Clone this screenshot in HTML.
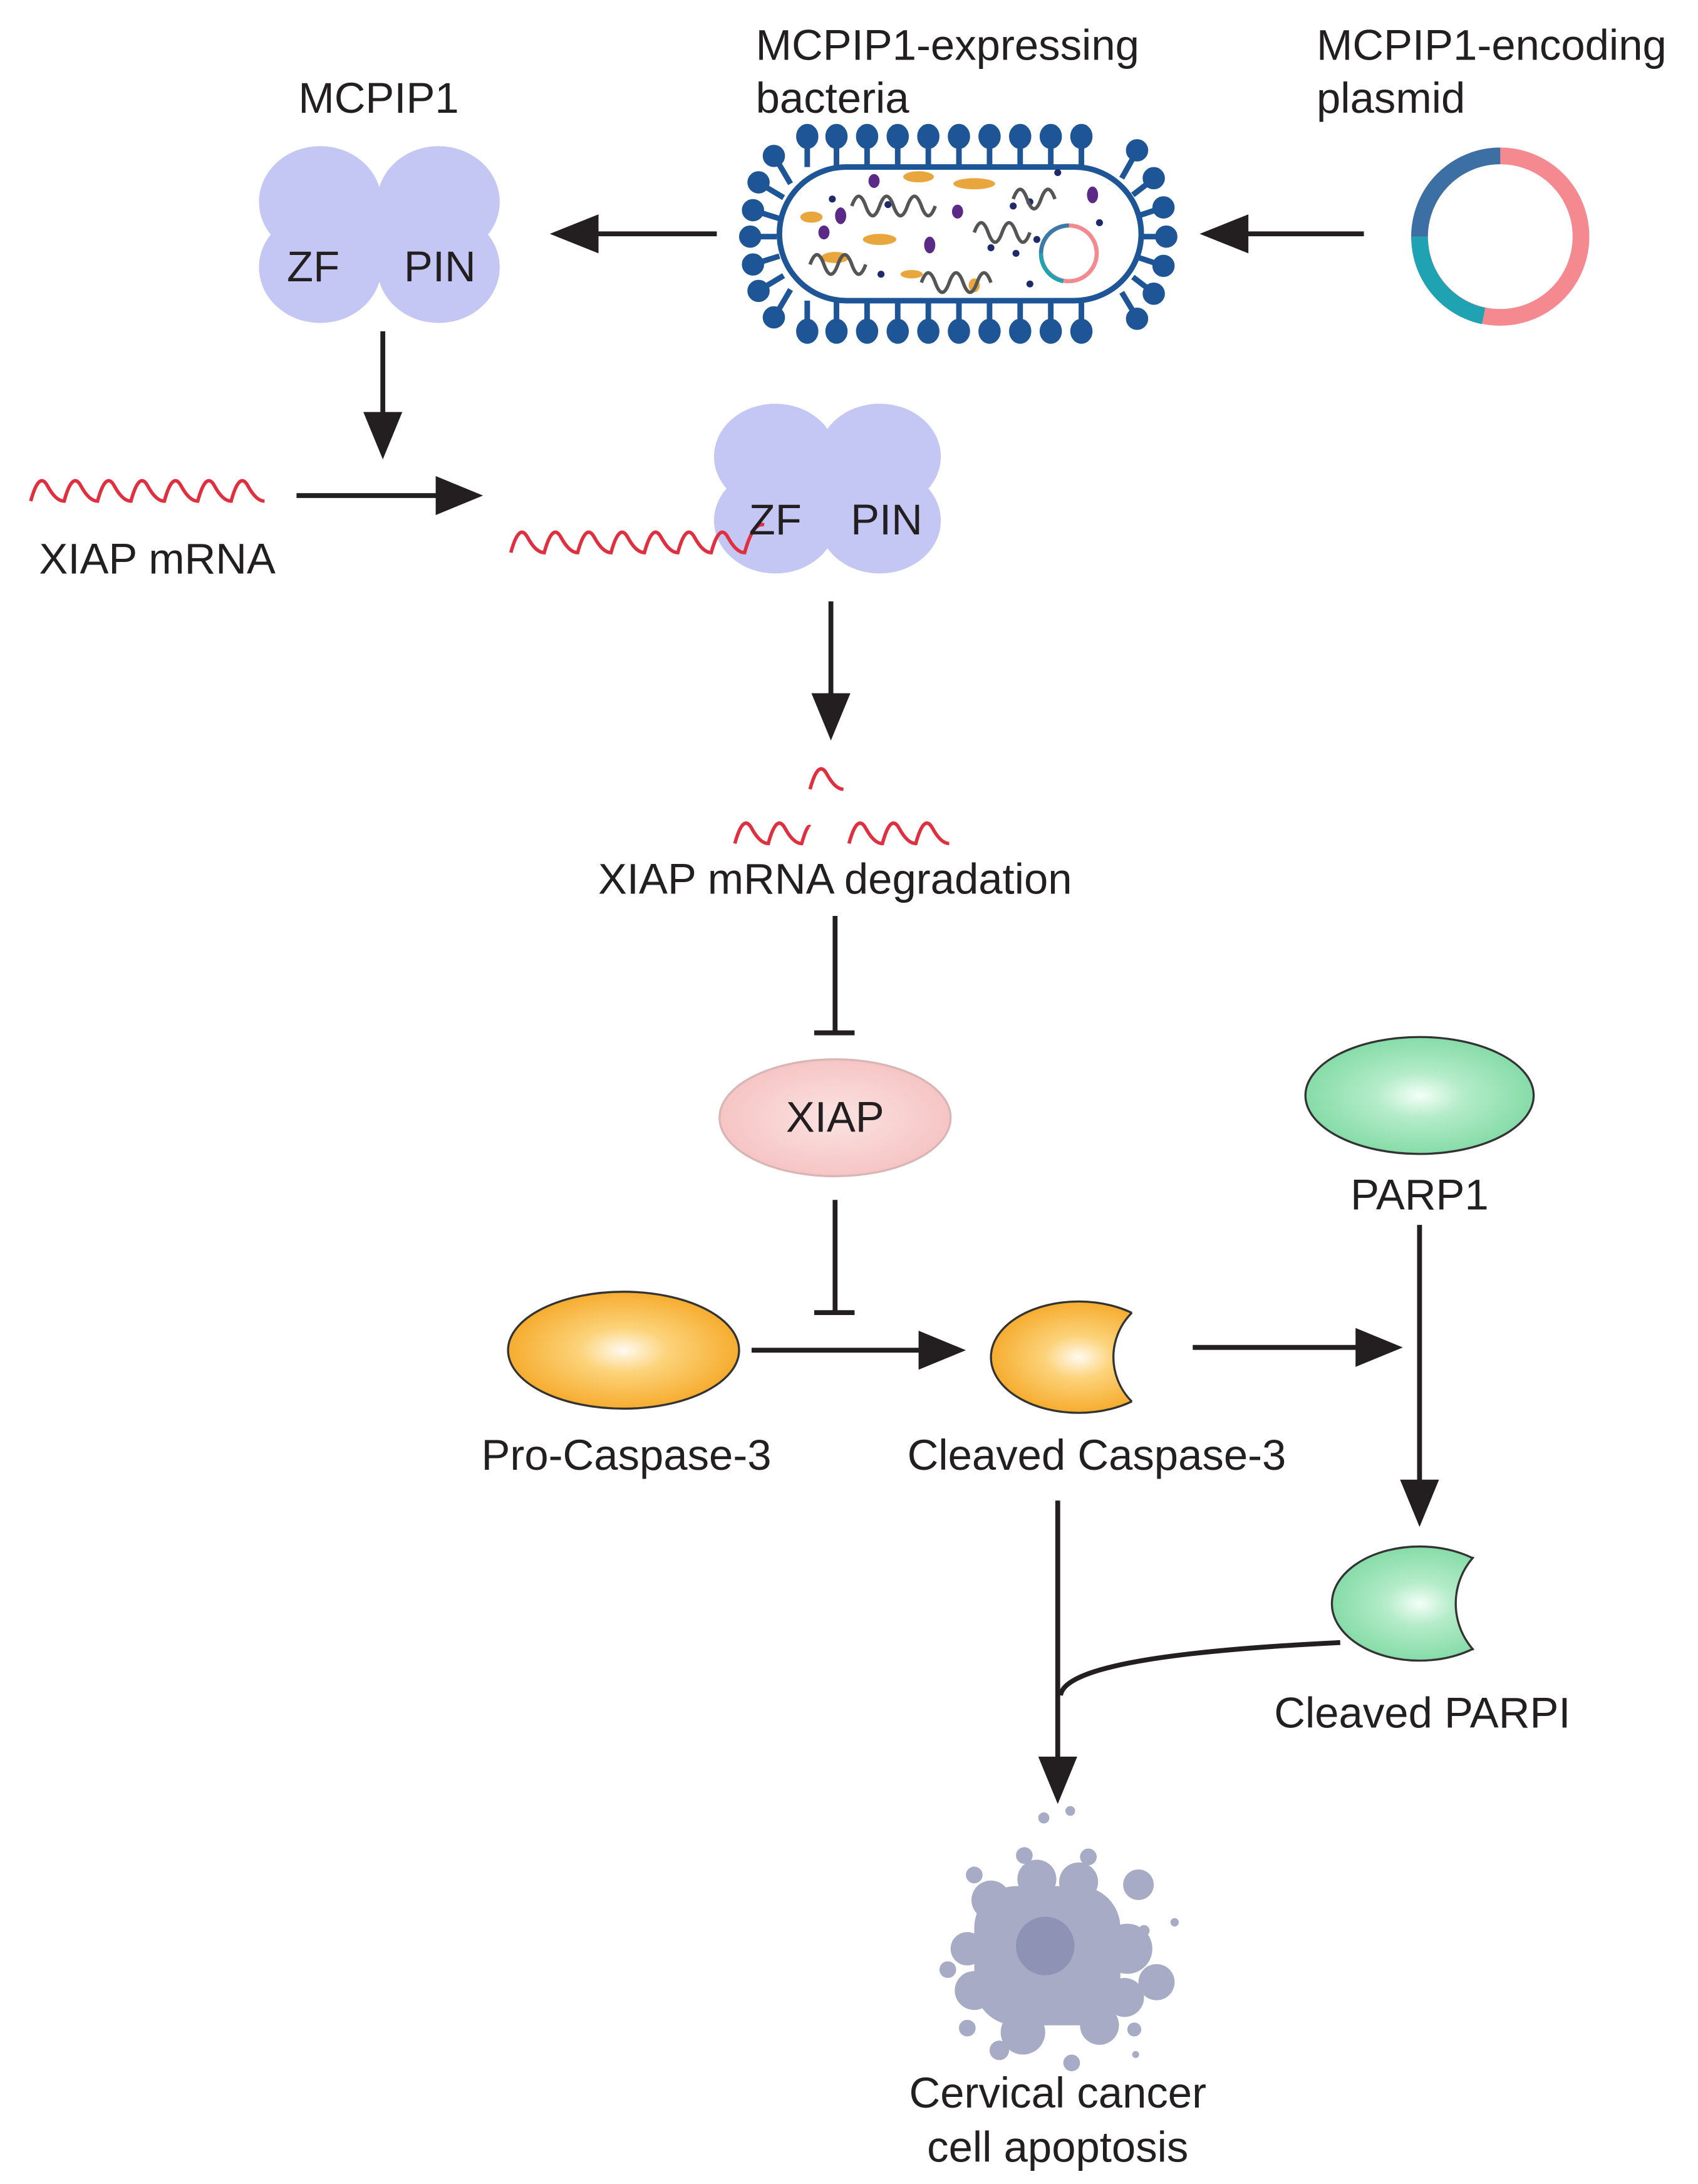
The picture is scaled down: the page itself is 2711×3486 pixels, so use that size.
<!DOCTYPE html>
<html><head><meta charset="utf-8"><style>
html,body{margin:0;padding:0;background:#fff;}
svg{display:block;}
text{font-family:"Liberation Sans",Arial,sans-serif;fill:#231f20;}
</style></head><body>
<svg width="2711" height="3486" viewBox="0 0 1220 1569" xmlns="http://www.w3.org/2000/svg">
<defs>
<radialGradient id="gOr" cx="50%" cy="50%" r="55%"><stop offset="0" stop-color="#fffaf0"/><stop offset="0.35" stop-color="#fcd37a"/><stop offset="1" stop-color="#f5a623"/></radialGradient>
<radialGradient id="gGr" cx="50%" cy="50%" r="55%"><stop offset="0" stop-color="#f4fff8"/><stop offset="0.35" stop-color="#b4ecc9"/><stop offset="1" stop-color="#7fd9a3"/></radialGradient>
<radialGradient id="gPk" cx="50%" cy="50%" r="55%"><stop offset="0" stop-color="#fbe3e2"/><stop offset="1" stop-color="#f5c2c1"/></radialGradient>
<mask id="m1"><rect x="0" y="0" width="1220" height="1569" fill="#fff"/><circle cx="845" cy="975" r="45" fill="#000"/></mask>
<mask id="m2"><rect x="0" y="0" width="1220" height="1569" fill="#fff"/><circle cx="1096" cy="1152" r="50" fill="#000"/></mask>
<clipPath id="c1"><ellipse cx="775" cy="975" rx="63" ry="40"/></clipPath>
<clipPath id="c2"><ellipse cx="1020" cy="1152" rx="64" ry="42"/></clipPath>
</defs>

<text x="272" y="81" font-size="31" text-anchor="middle">MCPIP1</text>
<text x="543" y="43" font-size="31">MCPIP1-expressing</text>
<text x="543" y="81" font-size="31">bacteria</text>
<text x="946" y="43" font-size="31">MCPIP1-encoding</text>
<text x="946" y="81" font-size="31">plasmid</text>

<g fill="#c4c7f3">
<ellipse cx="230" cy="145" rx="44" ry="40"/><ellipse cx="315" cy="145" rx="44" ry="40"/>
<ellipse cx="230" cy="192" rx="44" ry="40"/><ellipse cx="315" cy="192" rx="44" ry="40"/>
<rect x="215" y="140" width="115" height="55"/>
</g>
<text x="225" y="202" font-size="31" text-anchor="middle">ZF</text>
<text x="316" y="202" font-size="31" text-anchor="middle">PIN</text>

<g stroke="#231f20" stroke-width="3.5" fill="none">
<line x1="515" y1="168" x2="420" y2="168"/>
<line x1="980" y1="168" x2="888" y2="168"/>
<line x1="275" y1="238" x2="275" y2="305"/>
<line x1="213" y1="356" x2="320" y2="356"/>
<line x1="597" y1="432" x2="597" y2="505"/>
<line x1="600" y1="658" x2="600" y2="742"/>
<line x1="585" y1="742" x2="614" y2="742"/>
<line x1="600" y1="862" x2="600" y2="943"/>
<line x1="585" y1="943" x2="614" y2="943"/>
<line x1="540" y1="970" x2="668" y2="970"/>
<line x1="857" y1="968" x2="982" y2="968"/>
<line x1="1020" y1="880" x2="1020" y2="1070"/>
<line x1="760" y1="1078" x2="760" y2="1268"/>
<path d="M963 1180 C 860 1185 765 1195 762 1218"/>
</g>
<g fill="#231f20">
<polygon points="395,168 430,154 430,182"/>
<polygon points="862,168 897,154 897,182"/>
<polygon points="275,330 261,296 289,296"/>
<polygon points="347,356 313,342 313,370"/>
<polygon points="597,532 583,498 611,498"/>
<polygon points="694,970 660,956 660,984"/>
<polygon points="1008,968 974,954 974,982"/>
<polygon points="1020,1097 1006,1063 1034,1063"/>
<polygon points="760,1296 746,1262 774,1262"/>
</g>

<g fill="#1d5596" stroke="#1d5596" stroke-width="4">
<line x1="580" y1="120" x2="580" y2="100"/><ellipse cx="580" cy="98" rx="6" ry="7"/>
<line x1="601" y1="120" x2="601" y2="100"/><ellipse cx="601" cy="98" rx="6" ry="7"/>
<line x1="623" y1="120" x2="623" y2="100"/><ellipse cx="623" cy="98" rx="6" ry="7"/>
<line x1="645" y1="120" x2="645" y2="100"/><ellipse cx="645" cy="98" rx="6" ry="7"/>
<line x1="667" y1="120" x2="667" y2="100"/><ellipse cx="667" cy="98" rx="6" ry="7"/>
<line x1="689" y1="120" x2="689" y2="100"/><ellipse cx="689" cy="98" rx="6" ry="7"/>
<line x1="711" y1="120" x2="711" y2="100"/><ellipse cx="711" cy="98" rx="6" ry="7"/>
<line x1="733" y1="120" x2="733" y2="100"/><ellipse cx="733" cy="98" rx="6" ry="7"/>
<line x1="755" y1="120" x2="755" y2="100"/><ellipse cx="755" cy="98" rx="6" ry="7"/>
<line x1="777" y1="120" x2="777" y2="100"/><ellipse cx="777" cy="98" rx="6" ry="7"/>
<line x1="580" y1="216" x2="580" y2="236"/><ellipse cx="580" cy="238" rx="6" ry="7"/>
<line x1="601" y1="216" x2="601" y2="236"/><ellipse cx="601" cy="238" rx="6" ry="7"/>
<line x1="623" y1="216" x2="623" y2="236"/><ellipse cx="623" cy="238" rx="6" ry="7"/>
<line x1="645" y1="216" x2="645" y2="236"/><ellipse cx="645" cy="238" rx="6" ry="7"/>
<line x1="667" y1="216" x2="667" y2="236"/><ellipse cx="667" cy="238" rx="6" ry="7"/>
<line x1="689" y1="216" x2="689" y2="236"/><ellipse cx="689" cy="238" rx="6" ry="7"/>
<line x1="711" y1="216" x2="711" y2="236"/><ellipse cx="711" cy="238" rx="6" ry="7"/>
<line x1="733" y1="216" x2="733" y2="236"/><ellipse cx="733" cy="238" rx="6" ry="7"/>
<line x1="755" y1="216" x2="755" y2="236"/><ellipse cx="755" cy="238" rx="6" ry="7"/>
<line x1="777" y1="216" x2="777" y2="236"/><ellipse cx="777" cy="238" rx="6" ry="7"/>
<line x1="568" y1="132" x2="558" y2="115"/><circle cx="556" cy="112" r="6"/>
<line x1="563" y1="142" x2="548" y2="133"/><circle cx="545" cy="131" r="6"/>
<line x1="560" y1="157" x2="544" y2="152"/><circle cx="541" cy="151" r="6"/>
<line x1="558" y1="170" x2="542" y2="170"/><circle cx="539" cy="170" r="6"/>
<line x1="560" y1="184" x2="544" y2="189"/><circle cx="541" cy="190" r="6"/>
<line x1="563" y1="198" x2="548" y2="207"/><circle cx="545" cy="209" r="6"/>
<line x1="568" y1="208" x2="558" y2="225"/><circle cx="556" cy="228" r="6"/>
<line x1="806" y1="128" x2="815" y2="112"/><circle cx="817" cy="108" r="6"/>
<line x1="814" y1="140" x2="827" y2="130"/><circle cx="829" cy="128" r="6"/>
<line x1="818" y1="155" x2="833" y2="150"/><circle cx="836" cy="149" r="6"/>
<line x1="820" y1="170" x2="836" y2="170"/><circle cx="838" cy="170" r="6"/>
<line x1="818" y1="185" x2="833" y2="190"/><circle cx="836" cy="191" r="6"/>
<line x1="814" y1="199" x2="827" y2="209"/><circle cx="829" cy="211" r="6"/>
<line x1="806" y1="210" x2="815" y2="225"/><circle cx="817" cy="229" r="6"/>
</g>
<rect x="560" y="120" width="260" height="96" rx="48" fill="#fff" stroke="#1d5596" stroke-width="4"/>
<g fill="#e9a63c">
<ellipse cx="660" cy="127" rx="11" ry="4"/><ellipse cx="700" cy="132" rx="15" ry="4"/>
<ellipse cx="583" cy="156" rx="8" ry="4"/><ellipse cx="632" cy="172" rx="12" ry="4"/>
<ellipse cx="600" cy="185" rx="10" ry="4"/><ellipse cx="655" cy="197" rx="8" ry="3"/><ellipse cx="700" cy="205" rx="4" ry="5"/>
</g>
<g fill="#5b2a86">
<ellipse cx="628" cy="130" rx="4" ry="5"/><ellipse cx="604" cy="155" rx="4" ry="6"/><ellipse cx="592" cy="167" rx="4" ry="5"/>
<ellipse cx="688" cy="152" rx="4" ry="5"/><ellipse cx="668" cy="176" rx="4" ry="6"/><ellipse cx="785" cy="140" rx="4" ry="6"/>
</g>
<g fill="#1f2a6b">
<circle cx="598" cy="143" r="2.5"/><circle cx="638" cy="147" r="2.5"/><circle cx="728" cy="148" r="2.5"/><circle cx="740" cy="145" r="2.5"/>
<circle cx="745" cy="172" r="2.5"/><circle cx="712" cy="178" r="2.5"/><circle cx="730" cy="182" r="2.5"/><circle cx="633" cy="197" r="2.5"/>
<circle cx="740" cy="204" r="2.5"/><circle cx="790" cy="160" r="2.5"/><circle cx="760" cy="124" r="2.5"/>
</g>
<g fill="none" stroke="#555" stroke-width="2.5">
<path d="M612 148 q5 -14 10 0 q5 14 10 0 q5 -14 10 0 q5 14 10 0 q5 -14 10 0 q5 14 10 0"/>
<path d="M728 143 q5 -14 10 0 q5 14 10 0 q5 -14 10 0"/>
<path d="M700 167 q5 -14 10 0 q5 14 10 0 q5 -14 10 0 q5 14 10 0"/>
<path d="M582 190 q5 -14 10 0 q5 14 10 0 q5 -14 10 0 q5 14 10 0"/>
<path d="M662 203 q5 -14 10 0 q5 14 10 0 q5 -14 10 0 q5 14 10 0 q5 -14 10 0"/>
</g>
<circle cx="768" cy="182" r="20" fill="none" stroke="#f48a8f" stroke-width="3"/>
<path d="M768 162 A20 20 0 0 0 748 182" fill="none" stroke="#3b79a8" stroke-width="3"/>
<path d="M748 182 A20 20 0 0 0 764 202" fill="none" stroke="#1fa3b3" stroke-width="3"/>

<circle cx="1078" cy="170" r="58" fill="none" stroke="#f48a8f" stroke-width="12"/>
<path d="M1078 112 A58 58 0 0 0 1020 170" fill="none" stroke="#3c6fa3" stroke-width="12"/>
<path d="M1020 170 A58 58 0 0 0 1066 227" fill="none" stroke="#1fa3b3" stroke-width="12"/>

<path d="M22 360 q6 -22 12 -11 q6 11 12 11 q6 -22 12 -11 q6 11 12 11 q6 -22 12 -11 q6 11 12 11 q6 -22 12 -11 q6 11 12 11 q6 -22 12 -11 q6 11 12 11 q6 -22 12 -11 q6 11 12 11 q6 -22 12 -11 q6 11 12 11" fill="none" stroke="#e0303f" stroke-width="2.5"/>
<text x="28" y="412" font-size="31">XIAP mRNA</text>

<g fill="#c4c7f3">
<ellipse cx="557" cy="328" rx="44" ry="38"/><ellipse cx="632" cy="328" rx="44" ry="38"/>
<ellipse cx="557" cy="374" rx="44" ry="38"/><ellipse cx="632" cy="374" rx="44" ry="38"/>
<rect x="540" y="320" width="110" height="55"/>
</g>
<path d="M367 397 q6 -22 12 -11 q6 11 12 11 q6 -22 12 -11 q6 11 12 11 q6 -22 12 -11 q6 11 12 11 q6 -22 12 -11 q6 11 12 11 q6 -22 12 -11 q6 11 12 11 q6 -22 12 -11 q6 11 12 11 q6 -22 12 -11 q6 11 12 11 q6 -22 14 -20" fill="none" stroke="#e0303f" stroke-width="2.5"/>
<text x="557" y="384" font-size="31" text-anchor="middle">ZF</text>
<text x="637" y="384" font-size="31" text-anchor="middle">PIN</text>

<g fill="none" stroke="#e0303f" stroke-width="2.5">
<path d="M582 567 q6 -22 12 -11 q6 11 12 11"/>
<path d="M528 606 q6 -22 12 -11 q6 11 12 11 q6 -22 12 -11 q6 11 12 11 q4 -14 6 -12"/>
<path d="M610 606 q6 -22 12 -11 q6 11 12 11 q6 -22 12 -11 q6 11 12 11 q6 -22 12 -11 q6 11 12 11"/>
</g>
<text x="600" y="642" font-size="31" text-anchor="middle">XIAP mRNA degradation</text>

<ellipse cx="600" cy="803" rx="83" ry="42" fill="url(#gPk)" stroke="#d9b5b5" stroke-width="1.5"/>
<text x="600" y="813" font-size="31" text-anchor="middle">XIAP</text>

<ellipse cx="448" cy="970" rx="83" ry="42" fill="url(#gOr)" stroke="#333" stroke-width="1.5"/>
<text x="450" y="1056" font-size="31" text-anchor="middle">Pro-Caspase-3</text>

<ellipse cx="775" cy="975" rx="63" ry="40" fill="url(#gOr)" stroke="#333" stroke-width="1.5" mask="url(#m1)"/>
<circle cx="845" cy="975" r="45" fill="none" stroke="#333" stroke-width="1.5" clip-path="url(#c1)"/>
<text x="788" y="1056" font-size="31" text-anchor="middle">Cleaved Caspase-3</text>

<ellipse cx="1020" cy="787" rx="82" ry="42" fill="url(#gGr)" stroke="#333" stroke-width="1.5"/>
<text x="1020" y="869" font-size="31" text-anchor="middle">PARP1</text>

<ellipse cx="1020" cy="1152" rx="63" ry="41" fill="url(#gGr)" stroke="#333" stroke-width="1.5" mask="url(#m2)"/>
<circle cx="1096" cy="1152" r="50" fill="none" stroke="#333" stroke-width="1.5" clip-path="url(#c2)"/>
<text x="1022" y="1241" font-size="31" text-anchor="middle">Cleaved PARPI</text>

<g fill="#a7abc6">
<rect x="700" y="1355" width="105" height="100" rx="30"/>
<circle cx="712" cy="1365" r="14"/><circle cx="745" cy="1350" r="14"/><circle cx="775" cy="1352" r="14"/>
<circle cx="695" cy="1400" r="12"/><circle cx="700" cy="1430" r="14"/><circle cx="735" cy="1460" r="16"/>
<circle cx="790" cy="1455" r="14"/><circle cx="810" cy="1400" r="18"/><circle cx="808" cy="1435" r="14"/>
<circle cx="818" cy="1354" r="11"/><circle cx="831" cy="1424" r="13"/><circle cx="782" cy="1334" r="6"/>
<circle cx="736" cy="1333" r="6"/><circle cx="750" cy="1306" r="4"/><circle cx="769" cy="1301" r="3.5"/>
<circle cx="700" cy="1347" r="6"/><circle cx="681" cy="1415" r="6"/><circle cx="695" cy="1457" r="6"/>
<circle cx="718" cy="1473" r="7"/><circle cx="770" cy="1482" r="6"/><circle cx="815" cy="1458" r="5"/>
<circle cx="822" cy="1387" r="4"/><circle cx="844" cy="1381" r="3"/><circle cx="816" cy="1476" r="2.5"/>
</g>
<circle cx="751" cy="1398" r="21" fill="#8e92b4"/>
<text x="760" y="1514" font-size="31" text-anchor="middle">Cervical cancer</text>
<text x="760" y="1553" font-size="31" text-anchor="middle">cell apoptosis</text>
</svg>
</body></html>
